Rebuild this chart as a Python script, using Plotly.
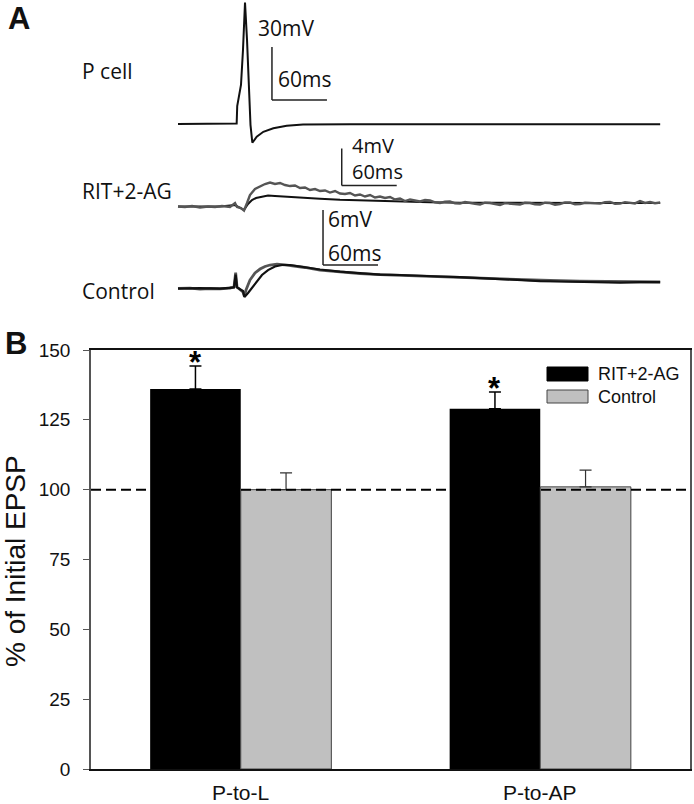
import plotly.graph_objects as go

W, H = 694, 804

# ---------------- Panel B data ----------------
groups = ["P-to-L", "P-to-AP"]
rit_mean = [136, 129]
rit_err = [8.3, 6.0]
ctrl_mean = [100, 101]
ctrl_err = [6.0, 6.0]
significant = [True, True]
baseline_pct = 100
y_ticks = [0, 25, 50, 75, 100, 125, 150]
series_names = ["RIT+2-AG", "Control"]

# ---------------- Panel A data (time in ms, membrane potential in mV) ----------------
pcell_t = [0, 64.0, 64.6, 68.7, 70.9, 73.1, 75.3, 77.5, 79.1, 81.1, 85.9, 93.1, 104.0,
           118.6, 136.4, 187.6, 526.0]
pcell_v = [-50.0, -49.7, -39.8, -27.9, -8.1, 18.7, -2.5, -36.4, -50.6, -60.6, -57.2,
           -54.4, -52.4, -51.0, -50.3, -50.2, -50.2]

rit_gray_t = [0, 7.6, 15.3, 24, 32.7, 40.4, 48, 56.7, 62.2, 64.4, 68.7, 72, 75.3, 78.5,
              84, 89.5, 94.9, 100.4, 105.8, 111.3, 116.7, 122.2, 127.6, 133.1, 138.5,
              144, 149.5, 154.9, 160.4, 165.8, 171.3, 176.7, 182.2, 187.6, 193.1, 198.5,
              204, 209.5, 214.9, 220.4, 225.8, 231.3, 236.7, 242.2, 247.6, 253.1, 258.5,
              264, 269.5, 274.9, 280.4, 285.8, 291.3, 296.7, 302.2, 307.6, 313.1, 318.5,
              324, 329.5, 334.9, 340.4, 345.8, 351.3, 356.7, 362.2, 367.6, 373.1, 378.5,
              384, 389.5, 394.9, 400.4, 405.8, 411.3, 416.7, 422.2, 427.6, 433.1, 438.5,
              444, 449.5, 454.9, 460.4, 465.8, 471.3, 476.7, 482.2, 487.6, 493.1, 498.5,
              504, 509.5, 514.9, 520.4, 526]
rit_gray_v = [0, -0.05, 0.05, -0.11, 0, -0.05, 0.05, -0.05, 0.38, -0.05, -0.16, -0.43,
              0.38, 1.24, 1.89, 2.21, 2.43, 2.59, 2.43, 2.54, 2.32, 2.21, 2.27, 2.0, 2.05,
              1.78, 1.89, 1.67, 1.73, 1.51, 1.67, 1.40, 1.35, 1.46, 1.19, 1.30, 1.08, 1.24,
              0.97, 1.08, 0.92, 1.03, 0.76, 0.86, 0.59, 0.76, 0.62, 0.54, 0.70, 0.65, 0.45,
              0.38, 0.52, 0.54, 0.35, 0.32, 0.48, 0.43, 0.30, 0.22, 0.41, 0.38, 0.25, 0.16,
              0.36, 0.32, 0.20, 0.22, 0.40, 0.38, 0.24, 0.22, 0.41, 0.38, 0.20, 0.27, 0.45,
              0.43, 0.25, 0.27, 0.40, 0.38, 0.28, 0.32, 0.46, 0.49, 0.30, 0.32, 0.47, 0.43,
              0.33, 0.59, 0.38, 0.49, 0.36, 0.43]

rit_black_t = [0, 24, 45.8, 62.2, 65.5, 72, 76.4, 80.7, 85.1, 91.6, 98.2, 105.8, 116.7,
               133.1, 154.9, 176.7, 198.5, 220.4, 242.2, 274.9, 307.6, 351.3, 405.8,
               460.4, 526]
rit_black_v = [0, -0.03, 0, 0.16, -0.05, -0.38, 0.27, 0.70, 0.92, 1.08, 1.19, 1.13, 1.08,
               0.97, 0.83, 0.72, 0.65, 0.56, 0.51, 0.45, 0.40, 0.38, 0.38, 0.38, 0.38]

ctrl_gray_t = [0, 13.1, 24, 34.9, 45.8, 56.7, 61.1, 62.9, 64.4, 67.6, 70.9, 72.5, 74.2,
               78.5, 84, 89.5, 94.9, 100.4, 108, 116.7, 127.6, 138.5, 154.9, 176.7, 198.5,
               220.4, 242.2, 274.9, 307.6, 340.4, 373.1, 405.8, 438.5, 471.3, 504, 526]
ctrl_gray_v = [-0.02, 0.03, -0.08, -0.02, -0.05, 0.01, 0.14, 1.70, 0.14, -0.08, -0.40,
               -0.89, -0.19, 0.90, 1.67, 2.10, 2.38, 2.54, 2.62, 2.56, 2.43, 2.27, 1.99,
               1.78, 1.61, 1.50, 1.42, 1.29, 1.20, 1.07, 0.90, 0.85, 0.77, 0.74, 0.71, 0.69]

ctrl_black_t = [0, 24, 45.8, 61.1, 62.9, 64.4, 70.9, 72.5, 76.4, 80.7, 85.1, 91.6, 98.2,
                105.8, 113.5, 122.2, 133.1, 154.9, 176.7, 198.5, 220.4, 242.2, 264, 285.8,
                307.6, 329.5, 351.3, 373.1, 394.9, 416.7, 438.5, 460.4, 482.2, 504, 526]
ctrl_black_v = [-0.02, 0.02, -0.03, 0.1, 1.5, 0.1, -0.3, -0.95, -0.51, 0.03, 0.69, 1.45,
                1.99, 2.38, 2.54, 2.54, 2.38, 2.05, 1.83, 1.67, 1.50, 1.45, 1.34, 1.29,
                1.23, 1.12, 0.96, 0.85, 0.79, 0.74, 0.68, 0.68, 0.63, 0.68, 0.68]

trace_labels = ["P cell", "RIT+2-AG", "Control"]
scalebar_mv = [30, 4, 6]
scalebar_ms = 60

# ---------------- layout geometry (pixels) ----------------
def xp(px):
    return px / W

def yp(py):
    return 1 - py / H

ARIAL = "Liberation Sans, Arial, sans-serif"
MYRIAD = "Open Sans, Noto Sans, sans-serif"

PX_PER_MS = 55 / 60
T0_PX = 178
PANEL_A_H = 320
# (px of baseline, mV at baseline, px height of scalebar)
trace_geo = [(124, -50.0, 53), (206.5, 0.0, 37), (288.3, 0.0, 55)]

fig = go.Figure()

# ---------------- Panel A ----------------
yaxes_a = ["y2", "y3", "y4"]
fig.add_trace(go.Scatter(x=pcell_t, y=pcell_v, mode="lines", xaxis="x2", yaxis="y2",
                         line=dict(color="#111111", width=2), hoverinfo="skip"))
fig.add_trace(go.Scatter(x=rit_black_t, y=rit_black_v, mode="lines", xaxis="x2", yaxis="y3",
                         line=dict(color="#111111", width=2), hoverinfo="skip"))
fig.add_trace(go.Scatter(x=rit_gray_t, y=rit_gray_v, mode="lines", xaxis="x2", yaxis="y3",
                         line=dict(color="#555555", width=2.4), hoverinfo="skip"))
fig.add_trace(go.Scatter(x=ctrl_gray_t, y=ctrl_gray_v, mode="lines", xaxis="x2", yaxis="y4",
                         line=dict(color="#555555", width=2.8), hoverinfo="skip"))
fig.add_trace(go.Scatter(x=ctrl_black_t, y=ctrl_black_v, mode="lines", xaxis="x2", yaxis="y4",
                         line=dict(color="#111111", width=2.2), hoverinfo="skip"))

t_left = (0 - T0_PX) / PX_PER_MS
t_right = (W - T0_PX) / PX_PER_MS

layout_axes = {}
layout_axes["xaxis2"] = dict(domain=[0, 1], range=[t_left, t_right], visible=False,
                             anchor="y2")
for i, (base_px, base_mv, bar_px) in enumerate(trace_geo):
    k = scalebar_mv[i] / bar_px
    rng = [base_mv - (PANEL_A_H - base_px) * k, base_mv + base_px * k]
    ax = dict(domain=[1 - PANEL_A_H / H, 1], range=rng, visible=False, anchor="x2")
    if i > 0:
        ax["overlaying"] = "y2"
    layout_axes["yaxis%d" % (i + 2)] = ax

# scale bars: corner position (ms, mV) in each trace's own axis
scalebar_corner = [(102.5, -36.4), (178.6, 2.27), (158.2, 2.54)]
shapes = []
for i, (tc, vc) in enumerate(scalebar_corner):
    yref = yaxes_a[i]
    shapes.append(dict(type="line", xref="x2", yref=yref, x0=tc, x1=tc, y0=vc,
                       y1=vc + scalebar_mv[i], line=dict(color="#222222", width=1.5)))
    shapes.append(dict(type="line", xref="x2", yref=yref, x0=tc, x1=tc + scalebar_ms,
                       y0=vc, y1=vc, line=dict(color="#222222", width=1.5)))

annotations = []

def txt(text, px, py, size, font=MYRIAD, xanchor="left", bold=False, angle=0):
    annotations.append(dict(text=("<b>%s</b>" % text) if bold else text,
                            x=xp(px), y=yp(py), xref="paper", yref="paper",
                            xanchor=xanchor, yanchor="middle", showarrow=False,
                            textangle=angle, align="left",
                            font=dict(family=font, size=size, color="#111111")))

txt("A", 6, 19, 31, font=ARIAL, bold=True)
txt("B", 3, 343, 31, font=ARIAL, bold=True)
label_pos = [(80, 71), (80, 191), (80, 291)]
for lab, (lx, ly) in zip(trace_labels, label_pos):
    txt(lab, lx, ly, 21)
# P cell scale labels
txt("%dmV" % scalebar_mv[0], 256, 28, 21)
txt("%dms" % scalebar_ms, 276, 79, 21)
# RIT scale labels (tightly stacked)
txt("%dmV<br>%dms" % (scalebar_mv[1], scalebar_ms), 350, 159, 20)
# Control scale labels
txt("%dmV" % scalebar_mv[2], 326, 219, 21)
txt("%dms" % scalebar_ms, 326, 253, 21)

# ---------------- Panel B ----------------
xpos = list(range(len(groups)))
fig.add_trace(go.Bar(x=xpos, y=rit_mean, name=series_names[0], offsetgroup="a",
                     marker=dict(color="black", line=dict(width=0)),
                     error_y=dict(type="data", symmetric=False, array=rit_err,
                                  arrayminus=[0] * len(rit_err), color="black",
                                  thickness=1.5, width=6),
                     xaxis="x", yaxis="y", hoverinfo="skip"))
fig.add_trace(go.Bar(x=xpos, y=ctrl_mean, name=series_names[1], offsetgroup="b",
                     marker=dict(color="#c0c0c0", line=dict(color="#444444", width=1)),
                     error_y=dict(type="data", symmetric=False, array=ctrl_err,
                                  arrayminus=[0] * len(ctrl_err), color="#333333",
                                  thickness=1.2, width=6),
                     xaxis="x", yaxis="y", hoverinfo="skip"))

BARGAP = 0.395
bar_w = (1 - BARGAP) / 2
for i, sig in enumerate(significant):
    if sig:
        annotations.append(dict(text="<b>*</b>", x=xpos[i] - bar_w / 2,
                                y=rit_mean[i] + rit_err[i], xref="x", yref="y",
                                xanchor="center", yanchor="bottom", yshift=-16,
                                showarrow=False,
                                font=dict(family=ARIAL, size=31, color="black")))

# category labels under the axis
for i, g in enumerate(groups):
    annotations.append(dict(text=g, x=xpos[i], y=yp(792), xref="x", yref="paper",
                            xanchor="center", yanchor="middle", showarrow=False,
                            font=dict(family=ARIAL, size=21, color="#111111")))

# baseline dashed line
shapes.append(dict(type="line", xref="x domain", yref="y", x0=0, x1=1,
                   y0=baseline_pct, y1=baseline_pct, layer="above",
                   line=dict(color="black", width=2, dash="10px,5px")))

# manual legend
leg_colors = ["black", "#c0c0c0"]
leg_lines = ["black", "#444444"]
leg_y = [(367, 381), (390, 403)]
for i, name in enumerate(series_names):
    shapes.append(dict(type="rect", xref="paper", yref="paper", x0=xp(547), x1=xp(588),
                       y0=yp(leg_y[i][1]), y1=yp(leg_y[i][0]), fillcolor=leg_colors[i],
                       line=dict(color=leg_lines[i], width=1)))
    txt(name, 596, (leg_y[i][0] + leg_y[i][1]) / 2, 18, font=ARIAL)

# y axis title
txt("% of Initial EPSP", 15, 561, 28, font=ARIAL, xanchor="center", angle=-90)

fig.update_layout(
    width=W, height=H,
    margin=dict(l=0, r=0, t=0, b=0),
    paper_bgcolor="white", plot_bgcolor="rgba(0,0,0,0)",
    showlegend=False,
    barmode="group", bargap=BARGAP, bargroupgap=0,
    xaxis=dict(domain=[xp(91), xp(690)], range=[-0.5, len(groups) - 0.5],
               tickvals=xpos, showticklabels=False, ticks="", showgrid=False,
               zeroline=False, showline=True, linecolor="#111111", linewidth=1.5,
               mirror=True, anchor="y", automargin=False),
    yaxis=dict(domain=[yp(769), yp(350)], range=[0, 150], tickvals=y_ticks,
               ticks="outside", ticklen=6, tickcolor="#555555", tickwidth=1.2,
               showgrid=False, zeroline=False, showline=True, linecolor="#555555",
               linewidth=1.5, mirror=True,
               tickfont=dict(family=ARIAL, size=19, color="#111111"),
               ticklabelstandoff=9, anchor="x", automargin=False),
    shapes=shapes,
    annotations=annotations,
    **layout_axes,
)

fig.write_html("out.html", config={"displayModeBar": False},
               post_script="document.body.style.margin='0px';document.body.style.overflow='hidden';")
